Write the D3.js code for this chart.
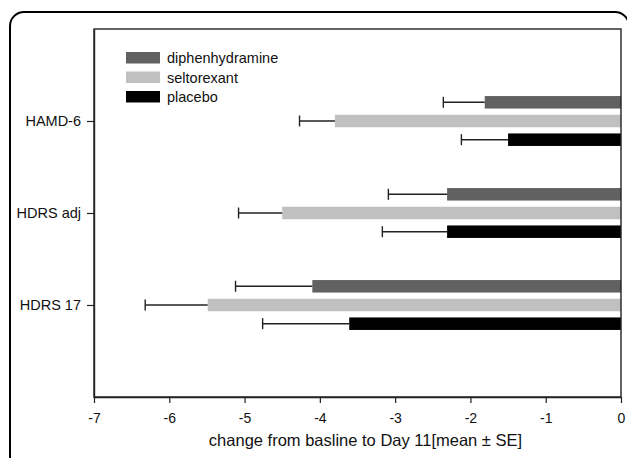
<!DOCTYPE html>
<html lang="en">
<head>
    <meta charset="UTF-8">
    <title>Change from baseline</title>
    <script src="https://cdn.jsdelivr.net/npm/d3@7"></script>
    <style>
        body { margin: 0; background: #fff; }
        svg { font-family: Arial, "Liberation Sans", sans-serif; }
    </style>
</head>
<body>
<div id="canvas"></div>
<script>
    // data
    const scales = ["HAMD-6", "HDRS adj", "HDRS 17"]
    const groups = ["diphenhydramine", "seltorexant", "placebo"]
    const colors = ["#616161", "#c0c0c0", "#000000"]
    const diphenhydramine = [-1.81, -2.31, -4.10]
    const diphenhydramineSE = [0.55, 0.78, 1.02]
    const seltorexant = [-3.80, -4.50, -5.49]
    const seltorexantSE = [0.47, 0.58, 0.83]
    const placebo = [-1.50, -2.31, -3.61]
    const placeboSE = [0.62, 0.86, 1.15]
    const xTicks = [-7, -6, -5, -4, -3, -2, -1, 0]

    const means = [diphenhydramine, seltorexant, placebo]
    const errs = [diphenhydramineSE, seltorexantSE, placeboSE]

    const width = 627, height = 458
    const margin = {top: 29, right: 6, bottom: 61, left: 94}

    const svg = d3.select("#canvas").append("svg")
        .attr("width", width).attr("height", height)

    // outer rounded frame, runs off the right and bottom edge
    svg.append("rect")
        .attr("x", 10).attr("y", 12)
        .attr("width", 619).attr("height", 480)
        .attr("rx", 14)
        .attr("fill", "none").attr("stroke", "#000").attr("stroke-width", 2)

    const x = d3.scaleLinear().domain([-7, 0])
        .range([margin.left, width - margin.right])
    const y = d3.scalePoint().domain(scales)
        .range([margin.top, height - margin.bottom]).padding(1)

    const barH = 12.5, gap = 18.7

    const rows = []
    scales.forEach((s, i) => {
        groups.forEach((g, j) => {
            rows.push({s: s, g: j, v: means[j][i], e: errs[j][i]})
        })
    })
    const yc = d => y(d.s) + (d.g - 1) * gap

    // bars
    svg.append("g").selectAll("rect")
        .data(rows).enter().append("rect")
        .attr("x", d => x(d.v))
        .attr("y", d => yc(d) - barH / 2)
        .attr("width", d => x(0) - x(d.v))
        .attr("height", barH)
        .attr("fill", d => colors[d.g])

    // error bars
    const eb = svg.append("g").attr("stroke", "#222").attr("stroke-width", 1.4)
    eb.selectAll(".whisk").data(rows).enter().append("line")
        .attr("x1", d => x(d.v)).attr("x2", d => x(d.v - d.e))
        .attr("y1", yc).attr("y2", yc)
    eb.selectAll(".cap").data(rows).enter().append("line")
        .attr("x1", d => x(d.v - d.e)).attr("x2", d => x(d.v - d.e))
        .attr("y1", d => yc(d) - 5.5).attr("y2", d => yc(d) + 5.5)

    // plot box
    svg.append("rect")
        .attr("x", margin.left).attr("y", margin.top)
        .attr("width", x(0) - margin.left)
        .attr("height", height - margin.bottom - margin.top)
        .attr("fill", "none").attr("stroke", "#222").attr("stroke-width", 1.4)

    // axes
    const xAxis = svg.append("g")
        .attr("transform", `translate(0,${height - margin.bottom})`)
        .call(d3.axisBottom(x).tickValues(xTicks).tickSize(6).tickSizeOuter(0)
            .tickFormat(d => String(d)))
    const yAxis = svg.append("g")
        .attr("transform", `translate(${margin.left},0)`)
        .call(d3.axisLeft(y).tickSize(7).tickSizeOuter(0))
    ;[xAxis, yAxis].forEach(a => {
        a.select(".domain").attr("stroke", "#222").attr("stroke-width", 1.4)
        a.selectAll(".tick line").attr("stroke", "#222").attr("stroke-width", 1.2)
        a.selectAll("text").attr("fill", "#111")
            .attr("font-family", "Arial, 'Liberation Sans', sans-serif")
    })
    xAxis.selectAll("text").attr("font-size", 14).attr("dy", "0.71em").attr("y", 16)
    yAxis.selectAll("text").attr("font-size", 14.5).attr("x", -13)

    svg.append("text")
        .attr("x", (margin.left + x(0)) / 2 + 8)
        .attr("y", 446)
        .attr("text-anchor", "middle")
        .attr("font-size", 16.5)
        .attr("fill", "#111")
        .text("change from basline to Day 11[mean \u00b1 SE]")

    // legend
    const leg = svg.append("g")
    groups.forEach((g, j) => {
        const ly = 52 + j * 19.5
        leg.append("rect").attr("x", 126).attr("y", ly)
            .attr("width", 34).attr("height", 11.5).attr("fill", colors[j])
        leg.append("text").attr("x", 167).attr("y", ly + 11)
            .attr("font-size", 14.5).attr("fill", "#111").text(g)
    })
</script>
</body>
</html>
